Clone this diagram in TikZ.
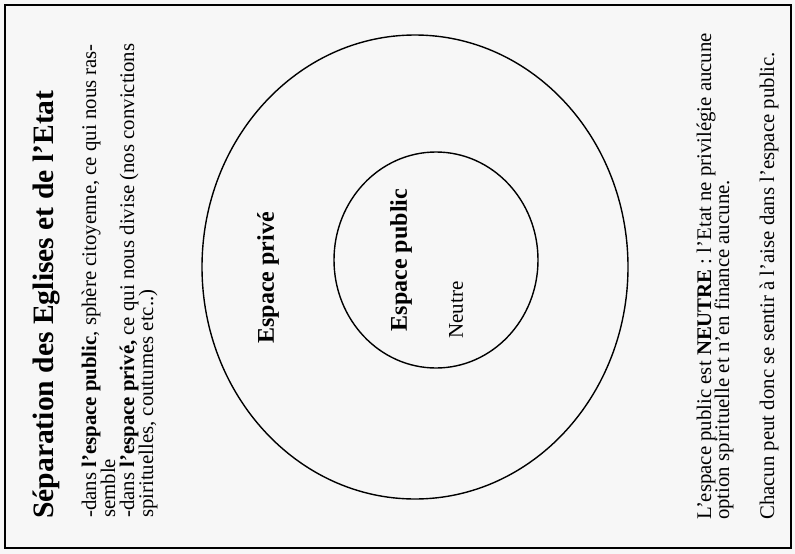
\documentclass[tikz,border=0pt]{standalone}
\usepackage{fontspec}
\setmainfont{Liberation Serif}
\begin{document}
\begin{tikzpicture}[x=1pt,y=-1pt,
  txt/.style={rotate=90,anchor=base west,inner sep=0pt,font=\fontsize{20.8}{21}\selectfont},
  ttl/.style={rotate=90,anchor=base west,inner sep=0pt,font=\bfseries\fontsize{29.6}{30}\selectfont},
  lbl/.style={rotate=90,anchor=center,inner sep=0pt,font=\bfseries\fontsize{24}{25}\selectfont},
  sml/.style={rotate=90,anchor=center,inner sep=0pt,font=\fontsize{21}{22}\selectfont},
  ring/.style={line width=1.4pt}]
\useasboundingbox (0,0) rectangle (795,554);
\fill[black!3] (0,0) rectangle (795,554);
\draw[line width=2pt] (5,5) rectangle (791,548);
% left block
\node[ttl] (title) at (53,519) {Séparation des Eglises et de l’Etat};
\node[txt] (l1) at (96,518) {-dans \textbf{l’espace public}, sphère citoyenne, ce qui nous ras-};
\node[txt] (l2) at (115,518) {semble};
\node[txt] (l3) at (134,518) {-dans \textbf{l’espace privé,} ce qui nous divise (nos convictions};
\node[txt] (l4) at (153,518) {spirituelles, coutumes etc..)};
% circles
\draw[ring] (415,267) ellipse [x radius=213, y radius=232];
\draw[ring] (436,260) ellipse [x radius=102, y radius=108];
\node[lbl] (prive) at (268,278) {Espace privé};
\node[lbl] (public) at (401,260) {Espace public};
\node[sml] (neutre) at (456,310) {Neutre};
% right block
\node[txt] (r1) at (711,520) {L’espace public est \textbf{NEUTRE} : l’Etat ne privilégie aucune};
\node[txt] (r2) at (729,520) {option spirituelle et n’en finance aucune.};
\node[txt] (r3) at (774,520) {Chacun peut donc se sentir à l’aise dans l’espace public.};
\end{tikzpicture}
\end{document}
